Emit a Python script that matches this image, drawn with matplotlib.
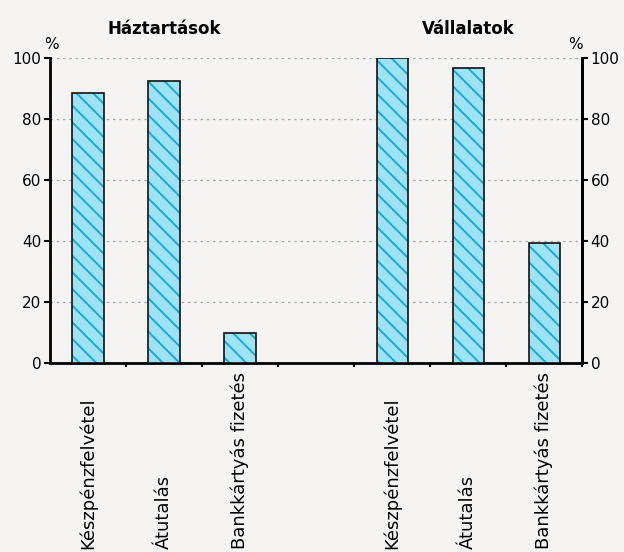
import matplotlib
matplotlib.use("Agg")
import matplotlib.pyplot as plt
from matplotlib.transforms import blended_transform_factory

plt.rcParams['hatch.linewidth'] = 1.4

categories = ["Készpénzfelvétel", "Átutalás", "Bankkártyás fizetés", "",
              "Készpénzfelvétel", "Átutalás", "Bankkártyás fizetés"]
haztartasok = [88.5, 92.5, 10.0]
vallalatok = [100.0, 96.7, 39.3]
values = haztartasok + [None] + vallalatok
yticks = [0, 20, 40, 60, 80, 100]
group_titles = ["Háztartások", "Vállalatok"]

bg = '#f5f4f2'
fig = plt.figure(figsize=(6.24, 5.52), dpi=100, facecolor=bg)
ax = fig.add_axes([0.080, 0.342, 0.853, 0.553], facecolor=bg)

xs = [i for i, v in enumerate(values) if v is not None]
vs = [v for v in values if v is not None]
# fill + hatch (hatch colour follows edgecolor)
ax.bar(xs, vs, width=0.41, color='#9de3f5', edgecolor='#1ba9d8', linewidth=0,
       hatch='\\\\', zorder=3)
# black outline
ax.bar(xs, vs, width=0.41, color='none', edgecolor='#111111', linewidth=1.2,
       zorder=4)

ax.set_xlim(-0.5, len(categories) - 0.5)
ax.set_ylim(0, 100)
ax.set_yticks(yticks)
ax.set_yticklabels([str(t) for t in yticks], fontsize=11)
ax.tick_params(axis='y', length=4, width=1.5, direction='out', pad=2)
ax.set_xticks([i + 0.5 for i in range(len(categories))])
ax.set_xticklabels([])
ax.tick_params(axis='x', length=3, width=1.5, direction='out')

ax.yaxis.grid(True, linestyle=(0, (2, 3)), color='#aaaaaa', linewidth=0.9, zorder=0)
ax.set_axisbelow(True)

for s in ['left', 'right', 'bottom']:
    ax.spines[s].set_linewidth(2)
    ax.spines[s].set_color('black')
ax.spines['top'].set_visible(False)

ax2 = ax.twinx()
ax2.set_ylim(0, 100)
ax2.set_yticks(yticks)
ax2.set_yticklabels([str(t) for t in yticks], fontsize=11)
ax2.tick_params(axis='y', length=4, width=1.5, direction='out', pad=2)
for s in ['left', 'right', 'bottom', 'top']:
    ax2.spines[s].set_visible(False)
ax2.spines['right'].set_visible(True)
ax2.spines['right'].set_linewidth(2)

trans = blended_transform_factory(ax.transData, fig.transFigure)
for i, c in enumerate(categories):
    if c:
        ax.text(i, 0.006, c, rotation=90, ha='center', va='bottom',
                fontsize=13, transform=trans)

ax.text(1.0, 0.948, group_titles[0], transform=trans, ha='center', va='center',
        fontsize=12, fontweight='bold')
ax.text(5.0, 0.948, group_titles[1], transform=trans, ha='center', va='center',
        fontsize=12, fontweight='bold')

fig.text(0.083, 0.920, "%", fontsize=11, ha='center', va='center')
fig.text(0.922, 0.920, "%", fontsize=11, ha='center', va='center')

fig.savefig("out.png", dpi=100, facecolor=bg)
